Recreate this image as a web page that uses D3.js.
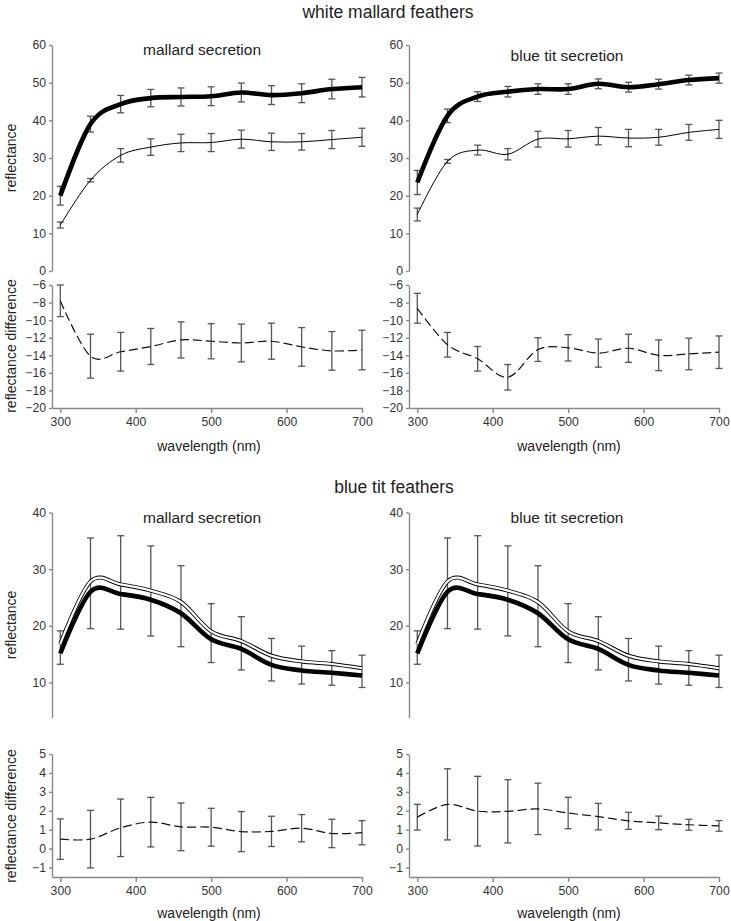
<!DOCTYPE html>
<html>
<head>
<meta charset="utf-8">
<script src="https://cdn.jsdelivr.net/npm/d3@7"></script>
<style>
    body { margin: 0; background: #fff; }
    text { font-family: "Liberation Sans", Arial, sans-serif; fill: #222; }
    .axis path, .axis line { stroke: #888; stroke-width: 1.4; }
    .axis text { font-size: 12.2px; fill: #333; }
    .title { font-size: 17.5px; }
    .subtitle { font-size: 15.5px; }
    .axis-label { font-size: 14px; }
</style>
</head>
<body>
<div id="chart-area"></div>
<script>
const wavelengths = [300, 340, 380, 420, 460, 500, 540, 580, 620, 660, 700];
const xTicks = [300, 400, 500, 600, 700];

// white mallard feathers, mallard secretion
const wmMallardThick = [20.0, 39.0, 44.3, 45.9, 46.2, 46.4, 47.4, 46.7, 47.2, 48.3, 48.8];
const wmMallardThickErr = [2.5, 2.1, 2.3, 2.3, 2.4, 2.5, 2.5, 2.5, 2.5, 2.6, 2.6];
const wmMallardThin = [12.2, 24.1, 30.7, 32.9, 34.0, 34.1, 35.0, 34.3, 34.3, 34.9, 35.5];
const wmMallardThinErr = [0.8, 0.45, 1.8, 2.2, 2.3, 2.4, 2.4, 2.3, 2.2, 2.4, 2.4];
const wmMallardDiff = [-7.8, -14.1, -13.6, -13.0, -12.25, -12.4, -12.6, -12.4, -13.05, -13.5, -13.4];
const wmMallardDiffErr = [1.8, 2.5, 2.2, 2.05, 2.05, 2.0, 2.15, 2.05, 2.2, 2.2, 2.25];

// white mallard feathers, blue tit secretion
const wmBlueTitThick = [23.5, 41.2, 46.3, 47.6, 48.3, 48.3, 49.7, 48.8, 49.6, 50.7, 51.2];
const wmBlueTitThickErr = [3.2, 1.8, 1.3, 1.4, 1.4, 1.4, 1.3, 1.3, 1.3, 1.3, 1.35];
const wmBlueTitThin = [15.0, 29.1, 32.1, 31.0, 35.0, 35.1, 35.8, 35.3, 35.5, 36.8, 37.6];
const wmBlueTitThinErr = [1.7, 0.5, 1.3, 1.5, 2.1, 2.2, 2.3, 2.3, 2.1, 2.1, 2.4];
const wmBlueTitDiff = [-8.65, -12.8, -14.4, -16.5, -13.35, -13.15, -13.75, -13.2, -14.0, -13.85, -13.65];
const wmBlueTitDiffErr = [1.7, 1.4, 1.4, 1.45, 1.35, 1.5, 1.6, 1.6, 1.75, 1.8, 1.85];

// blue tit feathers (same reflectance curves in both panels)
const btThick = [15.1, 26.0, 25.6, 24.6, 22.2, 17.6, 15.9, 13.1, 12.1, 11.7, 11.2];
const btThin = [16.8, 27.8, 27.3, 26.2, 24.2, 19.0, 17.3, 14.7, 13.7, 13.25, 12.5];
const btBarMid = [16.15, 27.5, 27.65, 26.15, 23.45, 18.7, 16.9, 14.0, 13.05, 12.55, 11.95];
const btBarErr = [2.95, 8.0, 8.25, 7.95, 7.15, 5.2, 4.7, 3.75, 3.35, 3.05, 2.85];
const btMallardDiff = [0.5, 0.5, 1.1, 1.4, 1.15, 1.13, 0.9, 0.91, 1.08, 0.8, 0.84];
const btMallardDiffErr = [1.07, 1.52, 1.52, 1.31, 1.26, 1.0, 1.06, 0.8, 0.72, 0.75, 0.64];
const btBlueTitDiff = [1.66, 2.34, 1.98, 1.97, 2.1, 1.88, 1.69, 1.47, 1.36, 1.26, 1.2];
const btBlueTitDiffErr = [0.68, 1.88, 1.84, 1.67, 1.36, 0.83, 0.7, 0.45, 0.36, 0.29, 0.28];

const topReflTicks = [0, 10, 20, 30, 40, 50, 60];
const topDiffTicks = [-20, -18, -16, -14, -12, -10, -8, -6];
const bottomReflTicks = [10, 20, 30, 40];
const bottomDiffTicks = [-1, 0, 1, 2, 3, 4, 5];

const chartSize = {width: 731, height: 921};
const columns = [
    {left: 52, right: 362, labelX: 202, xLabelX: 209},
    {left: 409, right: 719, labelX: 567, xLabelX: 569}
];

const svg = d3.select("#chart-area")
    .append("svg")
    .attr("width", chartSize.width)
    .attr("height", chartSize.height);

const smooth = d3.curveCardinal.tension(0);

const makeX = col => d3.scaleLinear().domain([289, 700]).range([col.left, col.right]);

const toPoints = (values) => wavelengths.map((w, i) => ({w, v: values[i]}));

const drawErrorBars = (g, x, y, mids, errs) => {
    const bars = g.append("g").attr("class", "error-bars");
    const pts = wavelengths.map((w, i) => ({w, lo: mids[i] - errs[i], hi: mids[i] + errs[i]}));
    bars.selectAll("line.stem").data(pts).enter().append("line")
        .attr("x1", d => x(d.w)).attr("x2", d => x(d.w))
        .attr("y1", d => y(d.lo)).attr("y2", d => y(d.hi))
        .attr("stroke", "#555").attr("stroke-width", 1.3);
    [d => d.lo, d => d.hi].forEach(end => {
        bars.selectAll(null).data(pts).enter().append("line")
            .attr("x1", d => x(d.w) - 3.5).attr("x2", d => x(d.w) + 3.5)
            .attr("y1", d => y(end(d))).attr("y2", d => y(end(d)))
            .attr("stroke", "#555").attr("stroke-width", 1.3);
    });
};

const drawLine = (g, x, y, values, style) => {
    const line = d3.line().x(d => x(d.w)).y(d => y(d.v)).curve(smooth);
    g.append("path")
        .datum(toPoints(values))
        .attr("d", line)
        .attr("fill", "none")
        .attr("stroke", style.stroke)
        .attr("stroke-width", style.width)
        .attr("stroke-dasharray", style.dash || null);
};

const drawYAxis = (g, x0, y, ticks) => {
    g.append("g")
        .attr("class", "axis")
        .attr("transform", `translate(${x0}, 0)`)
        .call(d3.axisLeft(y).tickValues(ticks).tickFormat(d3.format("d"))
            .tickSize(3).tickPadding(3).tickSizeOuter(0));
};

const drawXAxis = (g, x, y0) => {
    g.append("g")
        .attr("class", "axis")
        .attr("transform", `translate(0, ${y0})`)
        .call(d3.axisBottom(x).tickValues(xTicks).tickSize(5).tickPadding(4).tickSizeOuter(0));
};

const reflLines = {
    thick: {stroke: "#000", width: 4.6},
    thin: {stroke: "#000", width: 1},
    hollowOuter: {stroke: "#000", width: 4},
    hollowInner: {stroke: "#fff", width: 2.2},
    dashed: {stroke: "#111", width: 1.2, dash: "9,4"}
};

// ---- top row: white mallard feathers ----
const topRefl = d3.scaleLinear().domain([0, 60]).range([271, 45]);
const topDiff = d3.scaleLinear().domain([-20, -6]).range([408, 285]);

const topPanels = [
    {thick: wmMallardThick, thickErr: wmMallardThickErr, thin: wmMallardThin, thinErr: wmMallardThinErr,
     diff: wmMallardDiff, diffErr: wmMallardDiffErr, label: "mallard secretion", labelY: 55},
    {thick: wmBlueTitThick, thickErr: wmBlueTitThickErr, thin: wmBlueTitThin, thinErr: wmBlueTitThinErr,
     diff: wmBlueTitDiff, diffErr: wmBlueTitDiffErr, label: "blue tit secretion", labelY: 61}
];

topPanels.forEach((p, i) => {
    const col = columns[i];
    const x = makeX(col);
    const g = svg.append("g");

    drawYAxis(g, col.left, topRefl, topReflTicks);
    drawErrorBars(g, x, topRefl, p.thin, p.thinErr);
    drawErrorBars(g, x, topRefl, p.thick, p.thickErr);
    drawLine(g, x, topRefl, p.thin, reflLines.thin);
    drawLine(g, x, topRefl, p.thick, reflLines.thick);

    drawYAxis(g, col.left, topDiff, topDiffTicks);
    drawXAxis(g, x, topDiff.range()[0]);
    drawErrorBars(g, x, topDiff, p.diff, p.diffErr);
    drawLine(g, x, topDiff, p.diff, reflLines.dashed);

    g.append("text").attr("class", "subtitle")
        .attr("x", col.labelX).attr("y", p.labelY)
        .attr("text-anchor", "middle").text(p.label);
    g.append("text").attr("class", "axis-label")
        .attr("x", col.xLabelX).attr("y", 451)
        .attr("text-anchor", "middle").text("wavelength (nm)");
});

// ---- bottom row: blue tit feathers ----
const bottomRefl = d3.scaleLinear().domain([0, 40]).range([739, 512.5]);
const bottomDiff = d3.scaleLinear().domain([-1.5, 5]).range([877, 754]);

svg.append("clipPath").attr("id", "refl-clip")
    .append("rect").attr("x", 0).attr("y", 0).attr("width", chartSize.width).attr("height", 718);

const bottomPanels = [
    {diff: btMallardDiff, diffErr: btMallardDiffErr, label: "mallard secretion"},
    {diff: btBlueTitDiff, diffErr: btBlueTitDiffErr, label: "blue tit secretion"}
];

bottomPanels.forEach((p, i) => {
    const col = columns[i];
    const x = makeX(col);
    const g = svg.append("g");
    const rg = g.append("g").attr("clip-path", "url(#refl-clip)");

    drawYAxis(rg, col.left, bottomRefl, bottomReflTicks);
    drawErrorBars(rg, x, bottomRefl, btBarMid, btBarErr);
    drawLine(rg, x, bottomRefl, btThin, reflLines.hollowOuter);
    drawLine(rg, x, bottomRefl, btThin, reflLines.hollowInner);
    drawLine(rg, x, bottomRefl, btThick, reflLines.thick);

    drawYAxis(g, col.left, bottomDiff, bottomDiffTicks);
    drawXAxis(g, x, bottomDiff.range()[0]);
    drawErrorBars(g, x, bottomDiff, p.diff, p.diffErr);
    drawLine(g, x, bottomDiff, p.diff, reflLines.dashed);

    g.append("text").attr("class", "subtitle")
        .attr("x", col.labelX).attr("y", 523)
        .attr("text-anchor", "middle").text(p.label);
    g.append("text").attr("class", "axis-label")
        .attr("x", col.xLabelX).attr("y", 918)
        .attr("text-anchor", "middle").text("wavelength (nm)");
});

// ---- titles and y labels ----
svg.append("text").attr("class", "title")
    .attr("x", 388).attr("y", 18).attr("text-anchor", "middle").text("white mallard feathers");
svg.append("text").attr("class", "title")
    .attr("x", 394).attr("y", 493).attr("text-anchor", "middle").text("blue tit feathers");

const yLabels = [
    {text: "reflectance", y: 158},
    {text: "reflectance difference", y: 346},
    {text: "reflectance", y: 625},
    {text: "reflectance difference", y: 816}
];

svg.selectAll("text.y-label").data(yLabels).enter().append("text")
    .attr("class", "axis-label y-label")
    .attr("transform", d => `translate(16, ${d.y}) rotate(-90)`)
    .attr("text-anchor", "middle")
    .text(d => d.text);
</script>
</body>
</html>
